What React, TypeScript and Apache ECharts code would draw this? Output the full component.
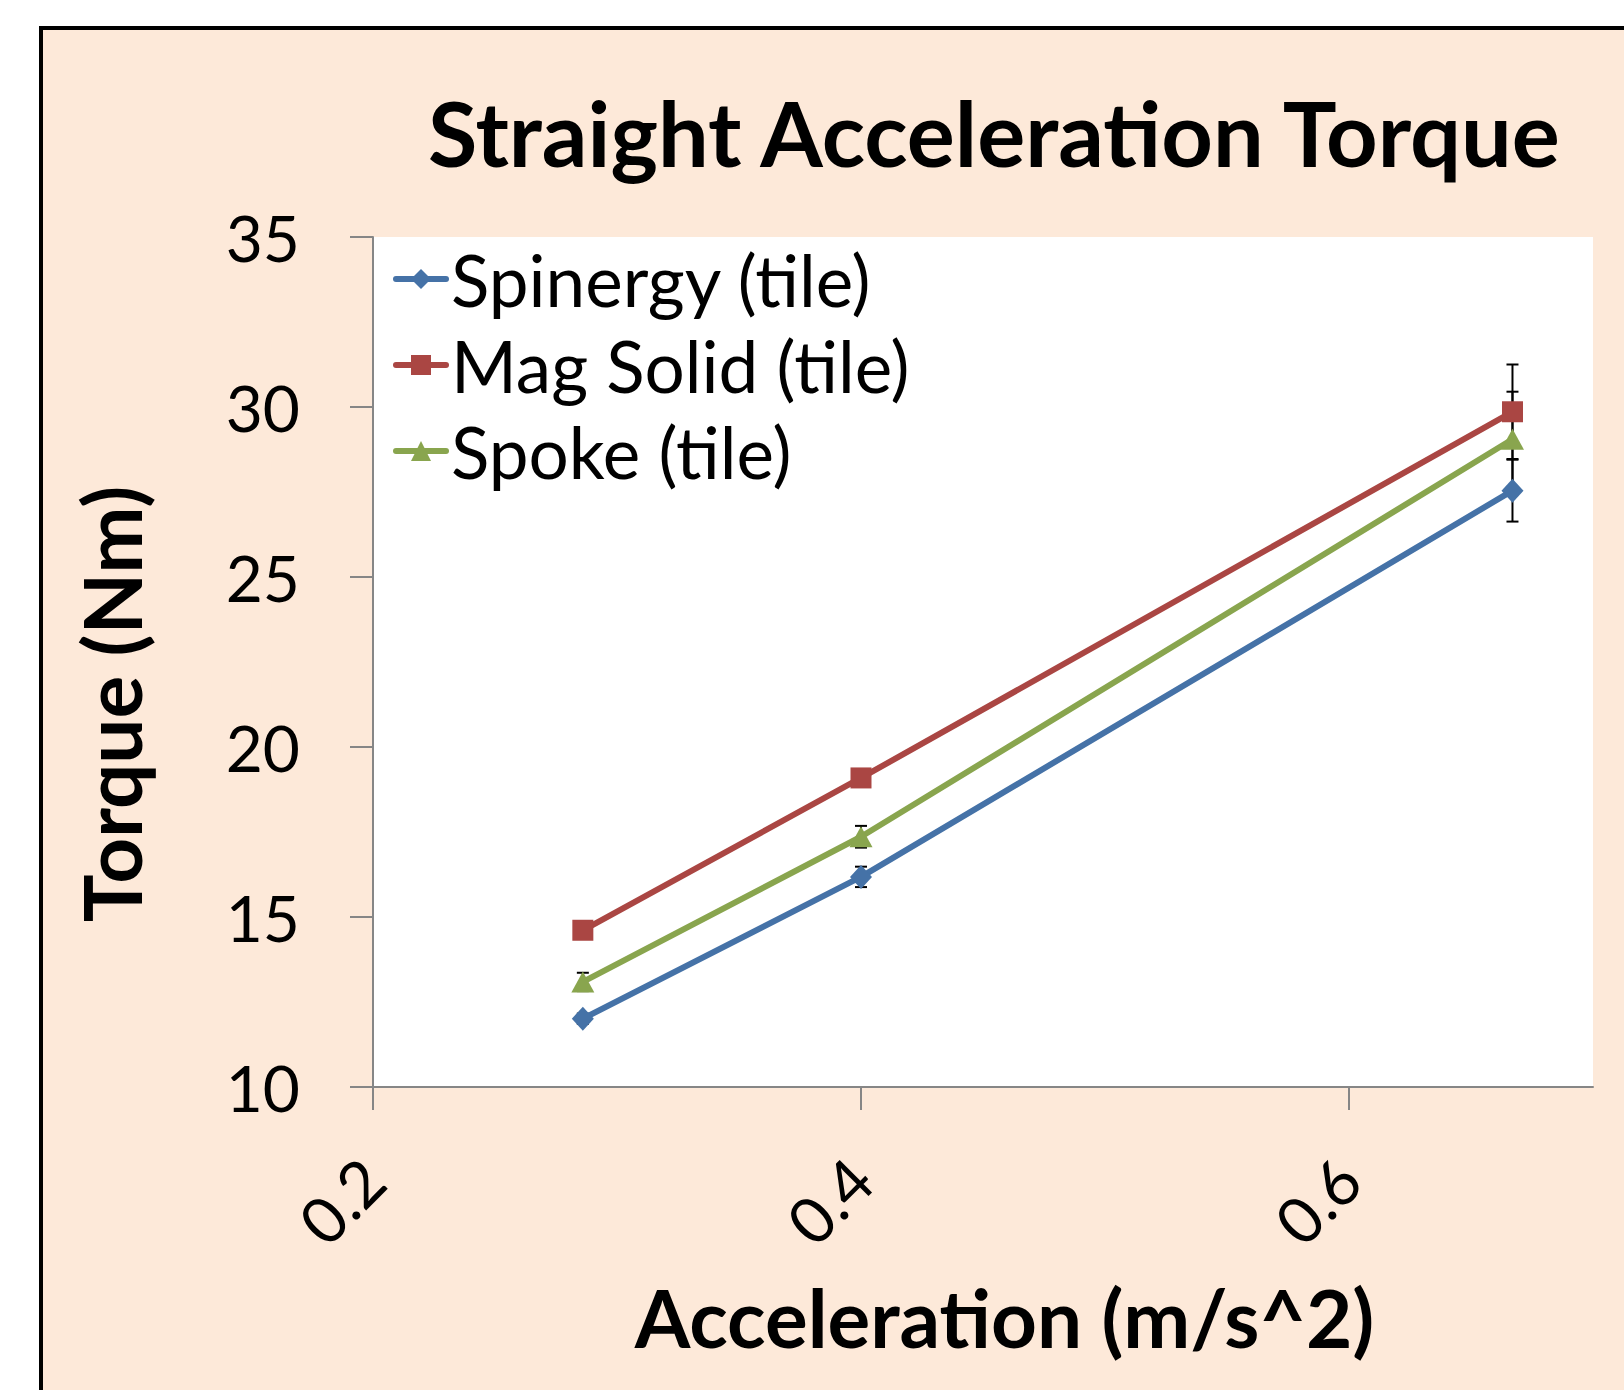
import React, { useEffect, useRef } from "react";
import * as echarts from "echarts";

// ---- data ----
const accel = [0.286, 0.4, 0.667];
const seriesNames = ["Spinergy (tile)", "Mag Solid (tile)", "Spoke (tile)"];
const spinergy = [12.01, 16.18, 27.54];
const magSolid = [14.61, 19.09, 29.86];
const spoke = [13.09, 17.36, 29.05];
const spinergyErr = [0.15, 0.3, 0.91];
const magSolidErr = [0.2, 0.2, 1.39];
const spokeErr = [0.27, 0.32, 1.4];
const xTicks = [0.2, 0.4, 0.6];
const yTicks = [10, 15, 20, 25, 30, 35];

const colors = ["#4572A7", "#AA4643", "#89A54E"];
const symbols = ["diamond", "rect", "triangle"];
const symbolSizes: any[] = [[22, 24], 21, [23, 21]];
const FONT = "Lato";

export default function App() {
  const ref = useRef<HTMLDivElement>(null);
  useEffect(() => {
    document.body.style.margin = "0";
    const chart = echarts.init(ref.current!, null, { renderer: "svg" });
    const values = [spinergy, magSolid, spoke];
    const errs = [spinergyErr, magSolidErr, spokeErr];

    const lineSeries = values.map((vals, i) => ({
      type: "line",
      name: seriesNames[i],
      data: accel.map((x, j) => [x, vals[j]]),
      symbol: symbols[i],
      symbolSize: symbolSizes[i],
      showAllSymbol: true,
      z: 3,
      itemStyle: { color: colors[i], opacity: 1, borderWidth: 0 },
      lineStyle: { color: colors[i], width: 6, cap: "round" },
      emphasis: { disabled: true },
    }));

    const errSeries = values.map((vals, i) => ({
      type: "custom",
      name: seriesNames[i] + " err",
      z: 2,
      data: accel.map((x, j) => [x, vals[j], errs[i][j]]),
      encode: { x: 0, y: 1 },
      renderItem: (params: any, api: any) => {
        const x = api.value(0);
        const y = api.value(1);
        const e = api.value(2);
        const top = api.coord([x, y + e]);
        const bot = api.coord([x, y - e]);
        const hw = 6;
        const style = { stroke: "#000", lineWidth: 2 };
        return {
          type: "group",
          children: [
            { type: "line", shape: { x1: top[0], y1: top[1], x2: bot[0], y2: bot[1] }, style },
            { type: "line", shape: { x1: top[0] - hw, y1: top[1], x2: top[0] + hw, y2: top[1] }, style },
            { type: "line", shape: { x1: bot[0] - hw, y1: bot[1], x2: bot[0] + hw, y2: bot[1] }, style },
          ],
        };
      },
    }));

    chart.setOption({
      animation: false,
      backgroundColor: "#ffffff",
      textStyle: { fontFamily: FONT },
      graphic: [
        {
          type: "rect",
          z: -10,
          silent: true,
          shape: { x: 41, y: 28, width: 1700, height: 1500 },
          style: { fill: "#FDE9D9", stroke: "#000000", lineWidth: 4 },
        },
      ],
      title: {
        text: "Straight Acceleration Torque",
        left: 428,
        top: 87,
        padding: 0,
        textStyle: {
          fontFamily: FONT,
          fontSize: 90,
          fontWeight: "bold",
          color: "#000",
          lineHeight: 90,
        },
      },
      legend: {
        data: seriesNames,
        orient: "vertical",
        left: 393,
        top: 239,
        padding: 0,
        itemGap: 6,
        itemWidth: 50,
        itemHeight: 25,
        lineStyle: { width: 6, cap: "round" },
        textStyle: {
          fontFamily: FONT,
          fontSize: 71,
          lineHeight: 80,
          color: "#000",
        },
      },
      grid: {
        left: 373,
        top: 237,
        right: 31,
        bottom: 303,
        show: true,
        backgroundColor: "#ffffff",
        borderWidth: 0,
        outerBoundsMode: "none",
      },
      xAxis: {
        type: "value",
        min: 0.2,
        max: 0.7,
        interval: 0.2,
        name: "Acceleration (m/s^2)",
        nameLocation: "middle",
        nameGap: 190,
        nameTextStyle: {
          fontFamily: FONT,
          fontSize: 80,
          fontWeight: "bold",
          color: "#000",
          lineHeight: 80,
          padding: [0, 0, 0, 43],
        },
        axisLine: { show: true, lineStyle: { color: "#868686", width: 2 } },
        axisTick: { show: true, length: 23, lineStyle: { color: "#868686", width: 2 }, customValues: xTicks },
        axisLabel: {
          rotate: 45,
          margin: 82,
          fontFamily: FONT,
          fontSize: 64,
          color: "#000",
          customValues: xTicks,
          formatter: (v: number) => String(Math.round(v * 10) / 10),
        },
        splitLine: { show: false },
      },
      yAxis: {
        type: "value",
        min: 10,
        max: 35,
        interval: 5,
        name: "Torque (Nm)",
        nameLocation: "middle",
        nameRotate: 90,
        nameGap: 222,
        nameTextStyle: {
          fontFamily: FONT,
          fontSize: 80,
          fontWeight: "bold",
          color: "#000",
          lineHeight: 80,
          padding: [0, 84, 0, 0],
        },
        axisLine: { show: true, lineStyle: { color: "#868686", width: 2 } },
        axisTick: { show: true, length: 23, lineStyle: { color: "#868686", width: 2 }, customValues: yTicks },
        axisLabel: {
          margin: 73,
          fontFamily: FONT,
          fontSize: 64,
          color: "#000",
          customValues: yTicks,
        },
        splitLine: { show: false },
      },
      series: [...errSeries, ...lineSeries],
    });
    return () => chart.dispose();
  }, []);
  return (
    <div
      ref={ref}
      style={{ position: "absolute", left: 0, top: 0, width: 1624, height: 1390 }}
    />
  );
}
